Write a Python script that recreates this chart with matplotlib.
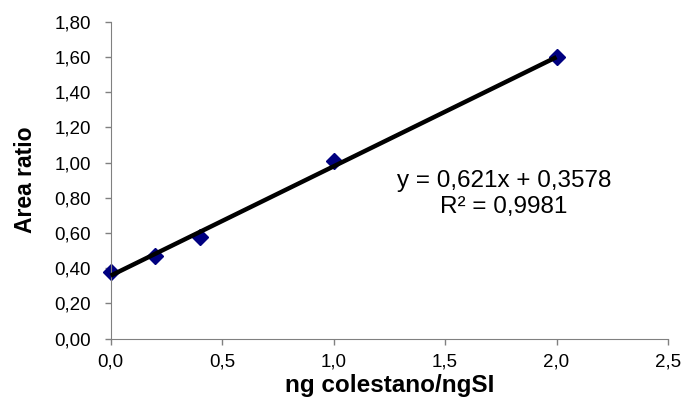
import numpy as np
import matplotlib.pyplot as plt
from matplotlib.ticker import FuncFormatter

plt.rcParams['font.family'] = ['Liberation Sans', 'DejaVu Sans']

# data
conc = [0.0, 0.2, 0.4, 1.0, 2.0]
ratio = [0.38, 0.47, 0.58, 1.01, 1.60]
slope = 0.621
intercept = 0.3578
r2 = 0.9981

fig = plt.figure(figsize=(6.83, 3.97), dpi=100)
ax = fig.add_axes([0.162, 0.147, 0.816, 0.798])

xs = np.array([min(conc), max(conc)])
ax.plot(conc, ratio, linestyle='none', marker='D', markersize=8,
        color='#000080', zorder=2, clip_on=False)
ax.plot(xs, slope * xs + intercept, color='black', lw=3.2, zorder=3,
        solid_capstyle='butt', clip_on=False)

ax.set_xlim(0, 2.5)
ax.set_ylim(0, 1.8)
ax.set_xticks(np.arange(0, 2.51, 0.5))
ax.set_yticks(np.arange(0, 1.81, 0.2))
ax.xaxis.set_major_formatter(FuncFormatter(lambda v, p: f"{v:.1f}".replace('.', ',')))
ax.yaxis.set_major_formatter(FuncFormatter(lambda v, p: f"{v:.2f}".replace('.', ',')))
ax.tick_params(direction='out', length=4, width=1, color='#808080', labelsize=13.5)
ax.tick_params(axis='y', pad=10)
ax.tick_params(axis='x', pad=7)

for s in ['top', 'right']:
    ax.spines[s].set_visible(False)
for s in ['left', 'bottom']:
    ax.spines[s].set_color('#808080')

ax.set_xlabel('ng colestano/ngSI', fontsize=17.5, fontweight='bold', labelpad=2.5)
ax.set_ylabel('Area ratio', fontsize=16.5, fontweight='bold')
ax.yaxis.set_label_coords(-0.132, 0.5)

eq = f"y = {slope:.3f}x + {intercept:.4f}".replace('.', ',')
rt = f"R² = {r2:.4f}".replace('.', ',')
ax.text(1.765, 0.862, eq, ha='center', va='baseline', fontsize=17.5)
ax.text(1.765, 0.715, rt, ha='center', va='baseline', fontsize=17.5)

fig.savefig('out.png', dpi=100)
